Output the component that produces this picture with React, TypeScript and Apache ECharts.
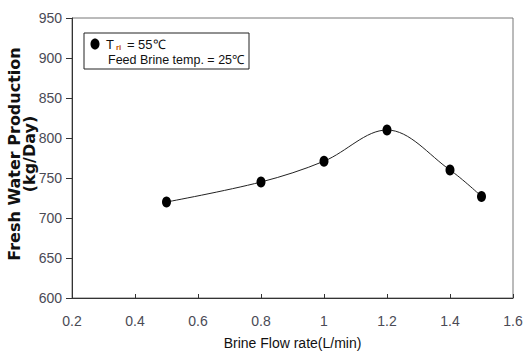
import React, { useEffect, useRef } from "react";
import * as echarts from "echarts";

const flowRates = [0.5, 0.8, 1.0, 1.2, 1.4, 1.5];
const production = [720, 745, 771, 810, 760, 727];
const xTicks = [0.2, 0.4, 0.6, 0.8, 1, 1.2, 1.4, 1.6];
const yTicks = [600, 650, 700, 750, 800, 850, 900, 950];
const yAxisTitle = "Fresh Water Production\n(kg/Day)";
const xAxisTitle = "Brine Flow rate(L/min)";

const narrow = "'Liberation Sans Narrow', 'Arial Narrow', Arial, 'Liberation Sans', sans-serif";

export default function App() {
  const ref = useRef<HTMLDivElement>(null);
  useEffect(() => {
    if (!ref.current) return;
    const chart = echarts.init(ref.current, null, { renderer: "svg" });
    chart.setOption({
      animation: false,
      backgroundColor: "#ffffff",
      grid: {
        left: 72, right: 11, top: 18, bottom: 58,
        containLabel: false, outerBoundsMode: "none",
        show: true, borderColor: "#777", borderWidth: 1, backgroundColor: "transparent",
      },
      xAxis: {
        type: "value",
        min: xTicks[0],
        max: xTicks[xTicks.length - 1],
        interval: 0.2,
        name: xAxisTitle,
        nameLocation: "middle",
        nameGap: 38,
        nameTextStyle: { fontFamily: narrow, fontSize: 14, color: "#111" },
        axisLine: { lineStyle: { color: "#333", width: 1 } },
        axisTick: { inside: true, length: 4, lineStyle: { color: "#333" } },
        axisLabel: { fontFamily: narrow, fontSize: 14, color: "#4a4a55", margin: 16, formatter: (v: number) => String(Math.round(v * 10) / 10) },
        splitLine: { show: false },
      },
      yAxis: {
        type: "value",
        min: yTicks[0],
        max: yTicks[yTicks.length - 1],
        interval: 50,
        axisLine: { show: true, lineStyle: { color: "#333", width: 1 } },
        axisTick: { show: true, inside: false, length: 6, lineStyle: { color: "#333" } },
        axisLabel: { fontFamily: narrow, fontSize: 14, color: "#4a4a55", margin: 10 },
        splitLine: { show: false },
      },
      graphic: [
        {
          type: "text",
          x: 22,
          y: 154,
          rotation: Math.PI / 2,
          style: {
            text: yAxisTitle,
            fontFamily: "'DejaVu Sans', Arial, sans-serif",
            fontSize: 16,
            fontWeight: "bold",
            fill: "#111",
            lineHeight: 15,
            align: "center",
            verticalAlign: "middle",
          },
        },
        { type: "rect", shape: { x: 84, y: 33, width: 165, height: 36 }, style: { fill: "#fff", stroke: "#222", lineWidth: 1 } },
        { type: "ellipse", shape: { cx: 95, cy: 44, rx: 4.5, ry: 5.5 }, style: { fill: "#000" } },
        {
          type: "text",
          x: 106,
          y: 44,
          style: {
            text: "{a|T}{s|ri}{a| = 55℃}",
            verticalAlign: "middle",
            rich: {
              a: { fontFamily: narrow, fontSize: 13, fill: "#111" },
              s: { fontFamily: narrow, fontSize: 8, fill: "#c05000", fontWeight: "bold", padding: [6, 2, 0, 2] },
            },
          },
        },
        { type: "text", x: 108, y: 60, style: { text: "Feed Brine temp. = 25℃", fontFamily: narrow, fontSize: 12.5, fill: "#111", verticalAlign: "middle" } },
      ],
      series: [
        {
          type: "line",
          data: flowRates.map((x, i) => [x, production[i]]),
          smooth: 0.35,
          symbol: "circle",
          symbolSize: [9, 11],
          itemStyle: { color: "#000" },
          lineStyle: { color: "#222", width: 1 },
        },
      ],
    });
    return () => chart.dispose();
  }, []);
  return <div ref={ref} style={{ width: 524, height: 356, position: "absolute", left: 0, top: 0 }} />;
}
